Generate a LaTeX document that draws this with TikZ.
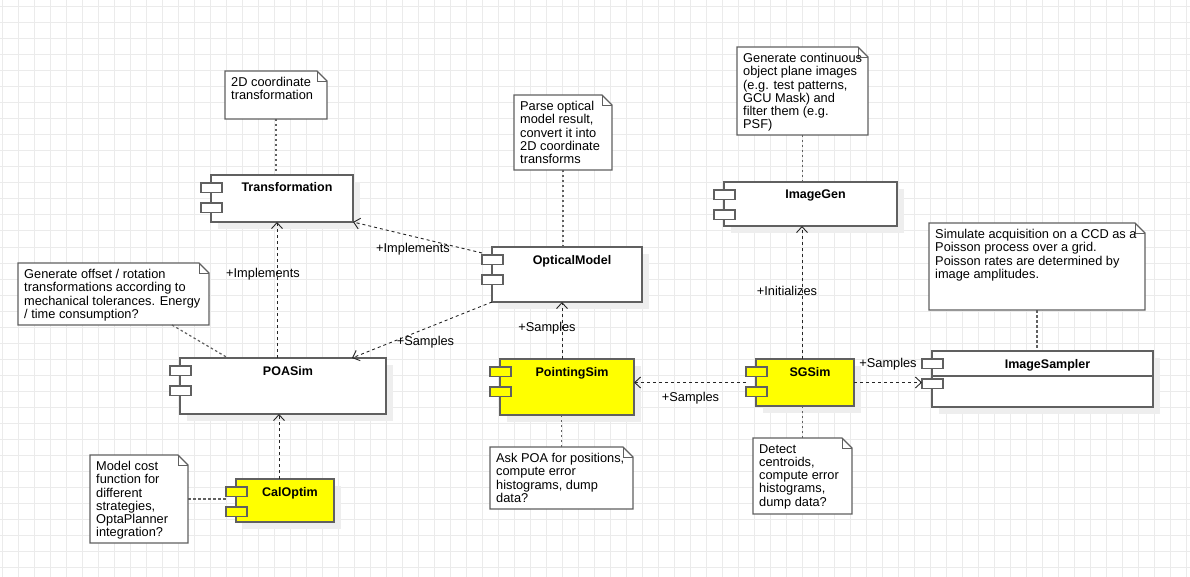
\documentclass[tikz,border=0pt]{standalone}
\usepackage{fontspec}
\setmainfont{Liberation Sans}
\usetikzlibrary{arrows.meta,calc}
\definecolor{gridc}{HTML}{EBEBEB}
\definecolor{edgec}{HTML}{606060}
\definecolor{shadowc}{HTML}{EEEEEE}
\definecolor{umlyellow}{HTML}{FFFF00}
\tikzset{
 txt/.style={font=\fontsize{12.8}{13.3}\selectfont},
 compbox/.style={draw=edgec, line width=1.3pt, inner sep=0pt, outer sep=0pt},
 portbox/.style={draw=edgec, line width=1.1pt, minimum width=21pt, minimum height=9.5pt, inner sep=0pt, outer sep=0pt},
 comptitle/.style={font=\fontsize{12.5}{13}\selectfont\bfseries, inner sep=0pt},
 notebase/.style={inner sep=0pt, outer sep=0pt},
 noteline/.style={draw=edgec, line width=1.3pt, fill=white, line join=miter},
 notefold/.style={draw=edgec, line width=0.8pt},
 notetext/.style={txt, align=left, inner sep=0pt},
 notelink/.style={draw=edgec, line width=1.2pt, dash pattern=on 2.5pt off 2.5pt},
 deplink/.style={draw=black!85, line width=0.9pt, dash pattern=on 3pt off 3pt, -{Straight Barb[length=6pt,width=11pt]}},
 deplabel/.style={txt, inner sep=0pt},
}
\newcommand{\umlcomp}[7]{%
  \fill[shadowc] (#2+7,#3+7) rectangle (#4+7,#5+7);
  \node[compbox, fill=#7, minimum width={#4pt-#2pt}, minimum height={#5pt-#3pt}] (#1) at ({(#2+#4)/2},{(#3+#5)/2}) {};
  \node[portbox, fill=#7, anchor=north west] (#1p1) at (#2-10,#3+8) {};
  \node[portbox, fill=#7, anchor=north west] (#1p2) at (#2-10,#3+28) {};
  \node[comptitle, anchor=base] (#1t) at ({(#2+#4)/2+5},#3+17) {#6};
}
\newcommand{\umlnote}[6]{%
  \node[notebase, minimum width={#4pt-#2pt}, minimum height={#5pt-#3pt}] (#1) at ({(#2+#4)/2},{(#3+#5)/2}) {};
  \draw[noteline] (#1.south west) -- (#1.north west) -- ([xshift=-10pt]#1.north east) -- ([yshift=-10pt]#1.north east) -- (#1.south east) -- cycle;
  \draw[notefold] ([xshift=-10pt]#1.north east) -- ([xshift=-10pt,yshift=-10pt]#1.north east) -- ([yshift=-10pt]#1.north east);
  \node[notetext, anchor=north west] (#1t) at (#2+6,#3+6) {#6};
}
\begin{document}
\begin{tikzpicture}[x=1pt,y=-1pt]
\useasboundingbox (0,0) rectangle (1190,577);
\fill[white] (0,0) rectangle (1190,577);
\foreach \i in {0,...,74} \draw[gridc, line width=1pt] (2+16*\i,0) -- (2+16*\i,577);
\foreach \j in {0,...,35} \draw[gridc, line width=1pt] (0,7+16*\j) -- (1190,7+16*\j);

% notes
\umlnote{nA}{225}{71}{327}{119}{2D coordinate\\transformation}
\umlnote{nB}{18}{263}{209}{325}{Generate offset / rotation\\transformations according to\\mechanical tolerances. Energy\\/ time consumption?}
\umlnote{nC}{90}{455}{188}{543}{Model cost\\function for\\different\\strategies,\\OptaPlanner\\integration?}
\umlnote{nD}{514}{95}{612}{170}{Parse optical\\model result,\\convert it into\\2D coordinate\\transforms}
\umlnote{nE}{490}{447}{633}{509}{Ask POA for positions,\\compute error\\histograms, dump\\data?}
\umlnote{nF}{737}{47}{868}{135}{Generate continuous\\object plane images\\(e.g. test patterns,\\GCU Mask) and\\filter them (e.g.\\PSF)}
\umlnote{nG}{929}{223}{1145}{310}{Simulate acquisition on a CCD as a\\Poisson process over a grid.\\Poisson rates are determined by\\image amplitudes.}
\umlnote{nH}{753}{438}{852}{514}{Detect\\centroids,\\compute error\\histograms,\\dump data?}

% components
\umlcomp{T}{211}{175}{353}{222}{Transformation}{white}
\umlcomp{P}{180}{358}{386}{414}{POASim}{white}
\umlcomp{C}{236}{479}{334}{522}{CalOptim}{umlyellow}
\umlcomp{O}{492}{247}{642}{302}{OpticalModel}{white}
\umlcomp{PS}{500}{359}{634}{415}{PointingSim}{umlyellow}
\umlcomp{S}{756}{359}{854}{406}{SGSim}{umlyellow}
\umlcomp{G}{724}{182}{897}{226}{ImageGen}{white}
\umlcomp{IS}{932}{351}{1153}{407}{ImageSampler}{white}
\draw[edgec, line width=1.3pt] (IS.west |- 0,376) -- (IS.east |- 0,376);

% note links
\draw[notelink] (nA.south) -- (nA.south |- T.north);
\draw[notelink] ([xshift=58.5pt]nB.south) -- ([xshift=-55pt]P.north);
\coordinate (Cin) at ([xshift=-10pt]C.west);
\draw[notelink] (nC.east) -- (nC.east -| Cin);
\draw[notelink] (nD.south) -- (nD.south |- O.north);
\draw[notelink] (nE.north) -- (nE.north |- PS.south);
\draw[notelink] (nF.south) -- (nF.south |- G.north);
\draw[notelink] (nG.south) -- (nG.south |- IS.north);
\draw[notelink] (nH.north) -- (nH.north |- S.south);

% dependencies
\draw[deplink] ([xshift=-6pt]P.north) -- ([xshift=-6pt]P.north |- T.south);
\draw[deplink] ([xshift=-6pt]C.north) -- ([xshift=-6pt]C.north |- P.south);
\draw[deplink] ([xshift=-10pt,yshift=-6pt]O.north west) -- (T.south east);
\draw[deplink] (O.south west) -- ([xshift=69pt]P.north);
\draw[deplink] ([xshift=-5pt]PS.north) -- ([xshift=-5pt]PS.north |- O.south);
\coordinate (Sout) at ([xshift=-10pt]S.west);
\draw[deplink] (Sout) -- (Sout -| PS.east);
\draw[deplink] ([xshift=-3pt]S.north) -- ([xshift=-3pt]S.north |- G.south);
\coordinate (ISin) at ([xshift=-10pt]IS.west);
\draw[deplink] (S.east) -- (S.east -| ISin);

% labels
\node[deplabel] (l1) at (263,274) {+Implements};
\node[deplabel] (l2) at (413,249) {+Implements};
\node[deplabel] (l3) at (425.5,342) {+Samples};
\node[deplabel] (l4) at (547,328) {+Samples};
\node[deplabel] (l5) at (690.5,398) {+Samples};
\node[deplabel] (l6) at (787,291) {+Initializes};
\node[deplabel] (l7) at (888,364) {+Samples};
\end{tikzpicture}
\end{document}
